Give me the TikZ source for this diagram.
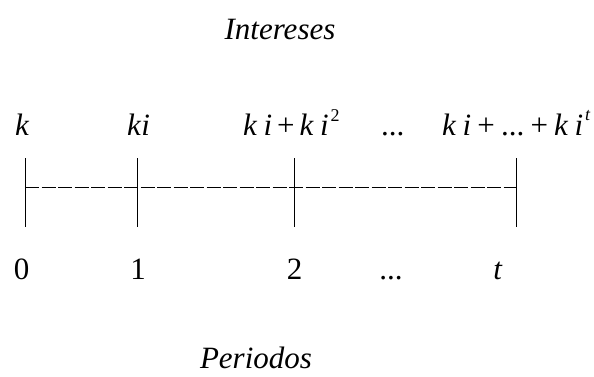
\documentclass[tikz,border=0pt]{standalone}
\usepackage{fontspec}
\setmainfont{Liberation Serif}
\tikzset{
  lbl/.style={inner sep=0pt, font=\fontsize{31}{36}\selectfont},
  tick/.style={line width=0.9pt},
  axis/.style={line width=0.9pt, dash pattern=on 14pt off 2.5pt}
}
\newcommand{\kk}{\textit{k}}
\newcommand{\ii}{\textit{i}}
\newcommand{\gp}{\hspace{0.2em}}
\newcommand{\supsz}{\fontsize{18}{21}\selectfont}
\begin{document}
\begin{tikzpicture}[x=1pt,y=-1pt]
\useasboundingbox (0,0) rectangle (594,376);
% ticks
\coordinate (t0a) at (25,158); \coordinate (t0b) at (25,227);
\coordinate (t1a) at (137,158); \coordinate (t1b) at (137,227);
\coordinate (t2a) at (294,158); \coordinate (t2b) at (294,227);
\coordinate (t3a) at (516,158); \coordinate (t3b) at (516,227);
\coordinate (h0) at (25,187); \coordinate (h3) at (516,187);
\draw[tick] (t0a) -- (t0b);
\draw[tick] (t1a) -- (t1b);
\draw[tick] (t2a) -- (t2b);
\draw[tick] (t3a) -- (t3b);
\draw[axis] (h0) -- (h3);
% titles
\node[lbl, anchor=base] (int) at (280,39) {\textit{Intereses}};
\node[lbl, anchor=base] (per) at (256,368) {\textit{Periodos}};
% top labels
\node[lbl, anchor=base west] (l0) at (15,135) {\kk};
\node[lbl, anchor=base west] (l1) at (127,135) {\kk\ii};
\node[lbl, anchor=base west] (l2) at (243,135) {\kk\gp\ii\hspace{0.16em}+\hspace{0.16em}\kk\gp\ii\hspace{0.06em}\raisebox{0.45em}{\supsz 2}};
\node[lbl, anchor=base west] (l3) at (381,135) {...};
\node[lbl, anchor=base west] (l4) at (442,135) {\kk\gp\ii\hspace{0.2em}+\hspace{0.2em}...\hspace{0.2em}+\hspace{0.2em}\kk\gp\ii\hspace{0.06em}\raisebox{0.48em}{\supsz\textit{t}}};
% bottom labels
\node[lbl, anchor=base] (b0) at (21.5,279) {0};
\node[lbl, anchor=base] (b1) at (138,279) {1};
\node[lbl, anchor=base] (b2) at (294.5,279) {2};
\node[lbl, anchor=base] (b3) at (391,279) {...};
\node[lbl, anchor=base] (b4) at (498,279) {\textit{t}};
\end{tikzpicture}
\end{document}
